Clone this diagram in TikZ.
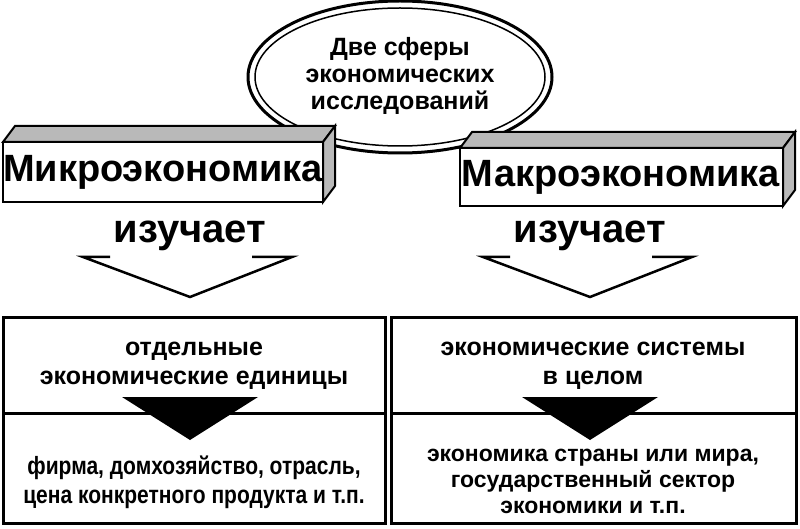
\documentclass[tikz,border=0pt]{standalone}
\usepackage{fontspec}
\setmainfont{Liberation Sans}
\newfontfamily\narrowfont[FakeStretch=0.84]{Liberation Sans}
\usetikzlibrary{shapes.geometric,positioning}
\tikzset{
  bigtitle/.style={font=\fontsize{38}{40}\selectfont\bfseries},
  verb/.style={font=\fontsize{40}{44}\selectfont\bfseries},
  cell/.style={font=\fontsize{25}{29}\selectfont\bfseries,align=center},
  frame/.style={draw,line width=3pt},
}
\begin{document}
\begin{tikzpicture}[x=1pt,y=-1pt]
\useasboundingbox (0,0) rectangle (800,529);
% ellipse with double rim
\node[ellipse,draw,line width=3pt,minimum width=304pt,minimum height=152pt] (sph) at (400,77) {};
\node[ellipse,draw,line width=1.5pt,minimum width=290pt,minimum height=138pt] at (400,77) {};
\node[cell,font=\fontsize{25}{27}\selectfont\bfseries] (sphtxt) at (400,76) {Две сферы\\экономических\\исследований};
% left 3D box
\filldraw[fill=gray!55,line width=2pt] (3,142) -- (15,126) -- (335,126) -- (323,142) -- cycle;
\filldraw[fill=gray!55,line width=2pt] (323,142) -- (335,126) -- (335,186) -- (323,202) -- cycle;
\filldraw[fill=white,line width=2pt] (3,142) rectangle (323,202);
\node[bigtitle] (micro) at (163,172) {Микроэкономика};
% right 3D box
\filldraw[fill=gray!55,line width=2pt] (460,148) -- (472,132) -- (795,132) -- (783,148) -- cycle;
\filldraw[fill=gray!55,line width=2pt] (783,148) -- (795,132) -- (795,190) -- (783,206) -- cycle;
\filldraw[fill=white,line width=2pt] (460,148) rectangle (783,206);
\node[bigtitle] (macro) at (621,177) {Макроэкономика};
% verbs with open arrows
\node[verb] (vl) at (190,236) {изучает};
\node[verb] (vr) at (590,236) {изучает};
\draw[line width=2.5pt,line join=miter] (110,257) -- (83,257) -- (190,297) -- (292,257) -- (252,257);
\draw[line width=2.5pt,line join=miter] (510,257) -- (483,257) -- (590,297) -- (692,257) -- (652,257);
% bottom tables
\draw[frame] (3,317) rectangle (385,523);
\draw[frame] (3,413) -- (385,413);
\draw[frame] (391,317) rectangle (796,523);
\draw[frame] (391,413) -- (796,413);
\node[cell] (unit) at (194,366) {отдельные\\экономические единицы};
\node[cell] (sys) at (593,366) {экономические системы\\в целом};
\fill (122,397) -- (258,397) -- (190,440) -- cycle;
\fill (522,397) -- (658,397) -- (590,440) -- cycle;
\node[cell,font=\fontsize{25}{29}\selectfont\narrowfont\bfseries] (firm) at (194,482) {фирма, домхозяйство, отрасль,\\цена конкретного продукта и т.п.};
\node[cell,font=\fontsize{23}{26}\selectfont\bfseries] (ctry) at (593,481) {экономика страны или мира,\\государственный сектор\\экономики и т.п.};
\end{tikzpicture}
\end{document}
